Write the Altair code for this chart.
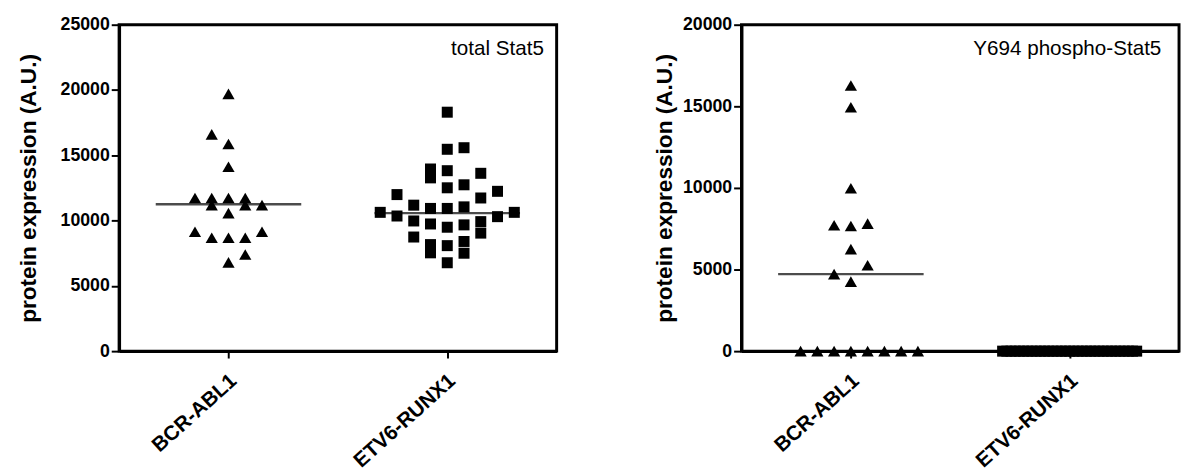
import altair as alt
import pandas as pd

categories = ["BCR-ABL1", "ETV6-RUNX1"]
panels = ["total Stat5", "Y694 phospho-Stat5"]
y_max = [25000, 20000]
y_ticks = [[0, 5000, 10000, 15000, 20000, 25000], [0, 5000, 10000, 15000, 20000]]

# total Stat5, BCR-ABL1 (triangles): value and horizontal column index
total_bcr_values = [19700, 16600, 15860, 14120, 11730, 11730, 11730, 11730, 11180, 11180,
                    11180, 10570, 9140, 9140, 8690, 8690, 8690, 7400, 6800]
total_bcr_cols = [0, -1, 0, 0, -2, -1, 0, 1, -1, 1,
                  2, 0, -2, 2, -1, 0, 1, 1, 0]

# total Stat5, ETV6-RUNX1 (squares)
total_etv_values = [18300, 15460, 15580, 13950, 13270, 13820, 13620, 12510, 12740, 11990,
                    12240, 11730, 10630, 10350, 11180, 10930, 10930, 11050, 10300, 10630,
                    9970, 9740, 9490, 9670, 9920, 9040, 8740, 8160, 7530, 8080,
                    8400, 7500, 6770]
total_etv_cols = [0, 0, 1, -1, -1, 0, 2, 0, 1, -3,
                  3, 2, -4, -3, -2, -1, 0, 1, 3, 4,
                  -2, -1, 0, 1, 2, 2, -2, -1, -1, 0,
                  1, 1, 0]

# Y694 phospho-Stat5, BCR-ABL1 (triangles)
phos_bcr_values = [16280, 14940, 9980, 7710, 7670, 7810, 6250, 5260, 4720, 4260,
                   0, 0, 0, 0, 0, 0, 0, 0]
phos_bcr_cols = [0, 0, 0, -1, 0, 1, 0, 1, -1, 0,
                 -3, -2, -1, 0, 1, 2, 3, 4]

# Y694 phospho-Stat5, ETV6-RUNX1 (squares, all at zero)
phos_etv_values = [0, 0, 0, 0, 0, 0, 0, 0, 0, 0, 0, 0, 0, 0, 0, 0, 0,
                   0, 0, 0, 0, 0, 0, 0, 0, 0, 0, 0, 0, 0, 0, 0, 0]
phos_etv_cols = [-4, -3.75, -3.5, -3.25, -3, -2.75, -2.5, -2.25, -2, -1.75, -1.5,
                 -1.25, -1, -0.75, -0.5, -0.25, 0, 0.25, 0.5, 0.75, 1, 1.25,
                 1.5, 1.75, 2, 2.25, 2.5, 2.75, 3, 3.25, 3.5, 3.75, 4]

# centre lines
total_lines = [11250, 10570]
phos_lines = [4720, 0]

FONT = "Liberation Sans"
COL_STEP = 0.0766
W, H = 445, 332

series = [
    (0, 0, total_bcr_values, total_bcr_cols),
    (0, 1, total_etv_values, total_etv_cols),
    (1, 0, phos_bcr_values, phos_bcr_cols),
    (1, 1, phos_etv_values, phos_etv_cols),
]
rows = []
for p, g, vals, cols in series:
    for v, c in zip(vals, cols):
        rows.append({"panel": panels[p], "gi": g, "group": categories[g], "col": c, "value": v})
df = pd.DataFrame(rows)

line_rows = []
for p, lines in enumerate([total_lines, phos_lines]):
    for g, v in enumerate(lines):
        line_rows.append({"panel": panels[p], "pos": g, "value": v})
ldf = pd.DataFrame(line_rows)

label_expr = "datum.value == 0 ? '%s' : '%s'" % (categories[0], categories[1])


def make_panel(pi, title_pad, annot_x):
    xenc = alt.X(
        "pos:Q",
        scale=alt.Scale(domain=[-0.5, 1.5], nice=False, zero=False),
        axis=alt.Axis(values=[0, 1], labelExpr=label_expr, title=None, grid=False,
                      labelAngle=-42, labelAlign="right", labelBaseline="middle",
                      labelFontSize=21, labelPadding=20, labelOffset=5, tickSize=7),
    )
    yenc = alt.Y(
        "value:Q",
        scale=alt.Scale(domain=[0, y_max[pi]], nice=False),
        axis=alt.Axis(values=y_ticks[pi], format="d", title="protein expression (A.U.)",
                      grid=False, labelFontSize=18, titleFontSize=23, tickSize=8,
                      labelPadding=2, titlePadding=title_pad),
    )
    pts = (
        alt.Chart(df[df.panel == panels[pi]])
        .transform_calculate(pos="datum.gi + datum.col * %f" % COL_STEP)
        .mark_point(filled=True, opacity=1, color="black", strokeWidth=0)
        .encode(
            x=xenc,
            y=yenc,
            shape=alt.Shape("group:N", scale=alt.Scale(domain=categories, range=["triangle-up", "square"]), legend=None),
            size=alt.Size("group:N", scale=alt.Scale(domain=categories, range=[155, 125]), legend=None),
        )
    )
    lines = (
        alt.Chart(ldf[ldf.panel == panels[pi]])
        .mark_tick(orient="horizontal", size=148, thickness=2.5, color="black")
        .encode(x=xenc, y=yenc)
    )
    annot = (
        alt.Chart(pd.DataFrame({"t": [panels[pi]]}))
        .mark_text(align="right", baseline="alphabetic", fontSize=21, font=FONT, color="black")
        .encode(x=alt.value(annot_x), y=alt.value(31), text="t:N")
    )
    return alt.layer(pts, lines, annot).properties(width=W, height=H)


left = make_panel(0, 20, 432)
right = make_panel(1, 6, 427)

chart = (
    alt.hconcat(left, right, spacing=95)
    .properties(padding={"left": 8, "top": 2, "right": 0, "bottom": 0}, background="white")
    .configure_view(stroke="black", strokeWidth=3)
    .configure_axis(domainColor="black", domainWidth=3, tickColor="black", tickWidth=2,
                    labelColor="black", titleColor="black", labelFont=FONT, titleFont=FONT,
                    labelFontWeight="bold", titleFontWeight="bold")
)

chart.save("out.html", embed_options={"renderer": "svg", "actions": False})
